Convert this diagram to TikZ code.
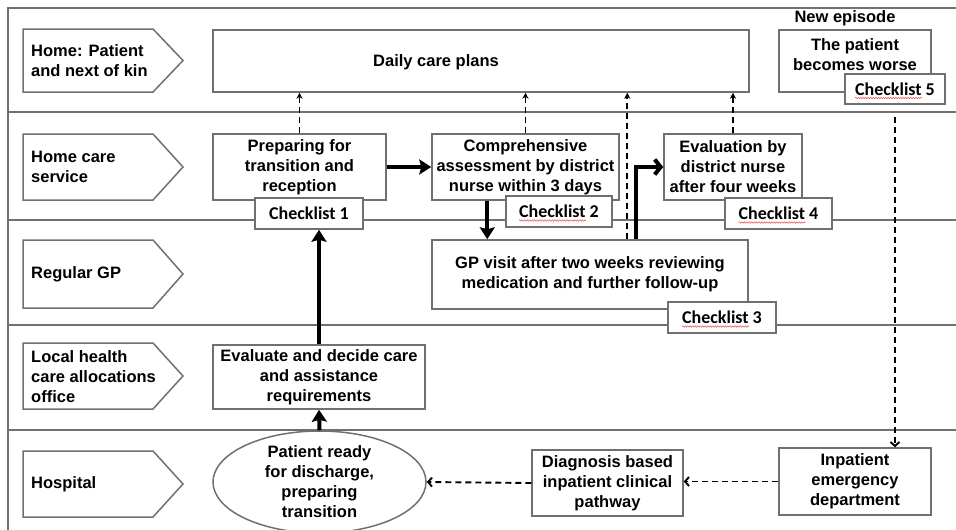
\documentclass[tikz,border=0pt]{standalone}
\usepackage{fontspec}
\setmainfont{Liberation Sans}
\newfontfamily\chkfont{Carlito}
\usetikzlibrary{arrows.meta,decorations.pathmorphing,calc,shapes.geometric}
\definecolor{boxgray}{RGB}{112,112,112}
\definecolor{squigred}{RGB}{230,80,80}
\begin{document}
\begin{tikzpicture}[x=1pt,y=-1pt,
  txt/.style={font=\fontsize{16.5}{20}\selectfont\bfseries},
  lane/.style={draw=boxgray,line width=1.4pt},
  pent/.style={draw=boxgray,line width=1.5pt,fill=white},
  box/.style={draw=boxgray,line width=1.5pt,fill=white,align=center,inner sep=0pt,txt},
  chk/.style={draw=boxgray,line width=1.5pt,fill=white,inner sep=0pt,font=\chkfont\bfseries\fontsize{18}{20}\selectfont},
  lbl/.style={align=left,anchor=west,inner sep=0pt,txt},
  thickarrow/.style={line width=4pt,-{Stealth[length=12pt,width=15pt,inset=2pt]}},
  barbarrow/.style={line width=4pt,-{Straight Barb[length=6pt,width=15pt]}},
  dasharrow/.style={line width=1.9pt,dash pattern=on 6pt off 4pt,-{Stealth[length=6pt,width=6pt]}},
  dashbarb/.style={line width=1.9pt,dash pattern=on 6pt off 4pt,-{Straight Barb[length=4pt,width=9pt]}},
  squig/.style={draw=squigred,line width=0.5pt,decorate,decoration={snake,amplitude=0.7pt,segment length=2.5pt}}
]
\useasboundingbox (0,0) rectangle (956,530);
% lanes
\draw[lane] (8,530) -- (8,8) -- (956,8);
\draw[lane] (8,112) -- (956,112);
\draw[lane] (8,220) -- (956,220);
\draw[lane] (8,325) -- (956,325);
\draw[lane] (8,430) -- (956,430);
% lane labels
\draw[pent] (23,29) -- (153,29) -- (183,60.5) -- (153,92) -- (23,92) -- cycle;
\draw[pent] (23,134) -- (153,134) -- (183,167) -- (153,200) -- (23,200) -- cycle;
\draw[pent] (23,240) -- (153,240) -- (183,274) -- (153,308) -- (23,308) -- cycle;
\draw[pent] (23,343) -- (153,343) -- (183,376) -- (153,409) -- (23,409) -- cycle;
\draw[pent] (23,451) -- (153,451) -- (183,484) -- (153,517) -- (23,517) -- cycle;
\node[lbl] (l1) at (31,61) {Home: Patient\\and next of kin};
\node[lbl] (l2) at (31,167) {Home care\\service};
\node[lbl] (l3) at (31,274) {Regular GP};
\node[lbl] (l4) at (31,377) {Local health\\care allocations\\office};
\node[lbl] (l5) at (31,484) {Hospital};
% boxes
\node[box,minimum width=536,minimum height=62] (daily) at (481,61) {};
\node[txt,inner sep=0pt] (dailytxt) at (436,62) {Daily care plans};
\node[box,minimum width=173,minimum height=66] (prep) at (299.5,167) {Preparing for\\transition and\\reception};
\node[chk,minimum width=108,minimum height=31] (chk1) at (309,213.5) {Checklist 1};
\node[box,minimum width=187,minimum height=66] (comp) at (525.5,167) {Comprehensive\\assessment by district\\nurse within 3 days};
\node[chk,minimum width=106,minimum height=31] (chk2) at (559,211.5) {Checklist 2};
\node[box,minimum width=138,minimum height=66] (evalnurse) at (733,167) {Evaluation by\\district nurse\\after four weeks};
\node[chk,minimum width=107,minimum height=31] (chk4) at (778.5,213.5) {Checklist 4};
\node[txt,inner sep=0pt] (newep) at (845,18) {New episode};
\node[box,minimum width=152,minimum height=62] (worse) at (855,61) {};
\node[txt,align=center,inner sep=0pt] (worsetxt) at (855,55) {The patient\\becomes worse};
\node[chk,minimum width=100,minimum height=30] (chk5) at (895,89) {Checklist 5};
\node[box,minimum width=316,minimum height=69] (gp) at (590,274.5) {GP visit after two weeks reviewing\\medication and further follow-up};
\node[chk,minimum width=108,minimum height=31] (chk3) at (722,317.5) {Checklist 3};
\node[box,minimum width=212,minimum height=64] (evaldec) at (319,377) {Evaluate and decide care\\and assistance\\requirements};
\node[box,ellipse,minimum width=213,minimum height=92] (ready) at (319.5,482) {Patient ready\\for discharge,\\preparing\\transition};
\node[box,minimum width=151,minimum height=66] (diag) at (607.5,483) {Diagnosis based\\inpatient clinical\\pathway};
\node[box,minimum width=152,minimum height=67] (inp) at (855,481.5) {Inpatient\\emergency\\department};
% squiggles
\foreach \c in {chk2,chk3,chk4,chk5}{
  \draw[squig] ($(\c.center)+(-40,9)$) -- ++(67,0);
}
% coordinates
\coordinate (gpdash) at ($(gp.north west)+(196,0)$);
\coordinate (gpthick) at ($(gp.north west)+(205,0)$);
\coordinate (compdown) at ($(comp.south west)+(56,0)$);
\coordinate (c5start) at ($(chk5.south)+(0,12)$);
% dashed connectors
\draw[dasharrow] (prep.north) -- (prep.north |- daily.south);
\draw[dasharrow] (comp.north) -- (comp.north |- daily.south);
\draw[dasharrow] (gpdash) -- (gpdash |- daily.south);
\draw[dasharrow] (evalnurse.north) -- (evalnurse.north |- daily.south);
\draw[dashbarb] (c5start) -- (c5start |- inp.north);
\draw[dashbarb] (inp.west) -- (inp.west -| diag.east);
\draw[dashbarb] (diag.west) -- (ready.east);
% thick connectors
\draw[thickarrow] (prep.east) -- (comp.west);
\draw[thickarrow] (compdown) -- (compdown |- gp.north);
\draw[barbarrow] (gpthick) |- (evalnurse.west);
\draw[thickarrow] (evaldec.north) -- (evaldec.north |- chk1.south);
\draw[thickarrow] (ready.north) -- (evaldec.south);
\end{tikzpicture}
\end{document}
